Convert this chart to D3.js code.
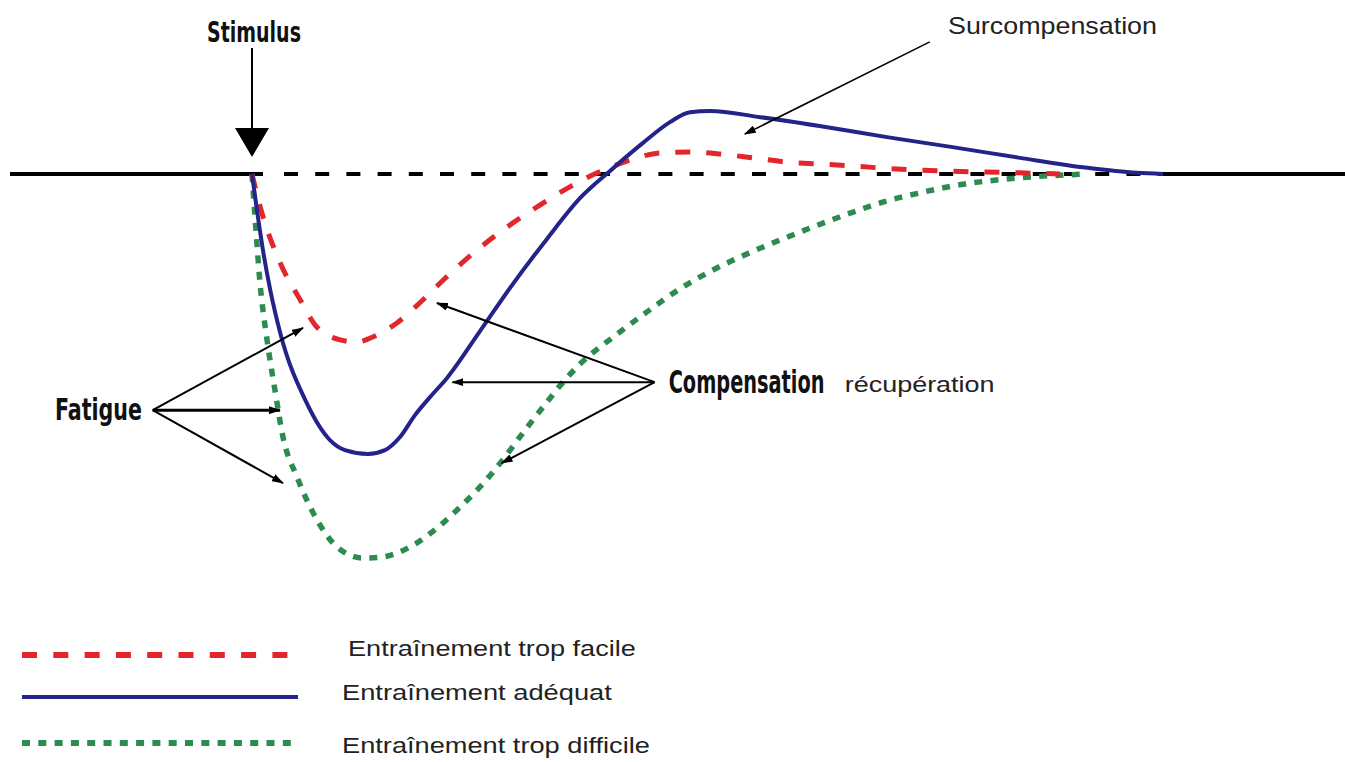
<!DOCTYPE html>
<html>
<head>
<meta charset="utf-8">
<script src="https://cdn.jsdelivr.net/npm/d3@7"></script>
<style>
  body { margin: 0; background: #ffffff; }
  svg { display: block; }
</style>
</head>
<body>
<svg id="chart" width="1345" height="762"></svg>
<script>
// ---------------- DATA ----------------
// time after the stimulus (arbitrary units, 0 = stimulus, 100 = back to baseline)
// level relative to the initial fitness level (0 = baseline, -100 = deepest fatigue)
const tEasy = [0, 0.9, 3.1, 5.3, 7.1, 9.7, 11.5, 13.0, 15.9, 18.4, 21.0, 24.3, 28.6, 31.6, 34.7, 37.9, 41.5, 44.8, 48.1, 51.4, 55.0, 58.7, 62.4, 73.3, 84.3, 88.7];
const vEasy = [0, -8.6, -23.2, -32.8, -39.8, -43.2, -43.8, -42.7, -38.8, -33.6, -27.6, -20.6, -12.8, -8.1, -3.6, 0.3, 3.6, 5.5, 5.7, 5.2, 4.2, 3.1, 2.6, 1.0, 0.3, 0];

const tAdequate = [0, 1.2, 2.0, 3.1, 6.0, 8.56, 10.21, 12.73, 14.6, 16.25, 17.89, 19.54, 21.41, 25.03, 28.65, 32.38, 36.0, 39.3, 42.92, 45.88, 48.08, 50.27, 55.8, 62.3, 69.7, 76.9, 84.3, 91.7, 97.1, 100];
const vAdequate = [0, -19.8, -30.2, -41.4, -59.6, -69.3, -71.9, -72.9, -71.9, -68.5, -62.8, -58.1, -53.1, -40.9, -28.6, -16.9, -6.3, 0.8, 8.1, 13.5, 16.1, 16.4, 14.8, 12.5, 9.6, 7.0, 4.2, 1.6, 0.3, 0];

const tHard = [0, 0.33, 0.88, 1.65, 2.52, 3.40, 4.94, 7.14, 9.33, 12.18, 14.38, 17.34, 20.31, 23.16, 25.03, 27.44, 29.97, 32.38, 34.36, 36.0, 39.63, 43.36, 46.98, 50.60, 54.34, 57.96, 61.58, 65.64, 69.70, 73.33, 76.95, 84.3, 91.7];
const vHard = [0, -11.2, -28.4, -43.2, -56.3, -68.5, -78.9, -90.1, -97.1, -100, -99.7, -97.1, -92.2, -86.0, -81.5, -74.7, -66.7, -59.4, -53.6, -49.5, -42.5, -35.9, -29.9, -25.0, -20.8, -17.2, -13.8, -10.2, -7.0, -4.9, -3.1, -1.0, 0];

const legendLabels = ["Entraînement trop facile", "Entraînement adéquat", "Entraînement trop difficile"];
const annotationLabels = ["Stimulus", "Fatigue", "Compensation", "récupération", "Surcompensation"];

// annotation anchor points in data units [time, level]
const fatigueOrigin = [-10.9, -61.5];
const fatigueTargets = [[5.6, -40.1], [3.07, -61.5], [3.4, -80.5]];
const compOrigin = [44.2, -54.2];
const compTargets = [[20.3, -33.6], [22.0, -54.2], [27.4, -75.3]];
const surcompFrom = [74.4, 34.4];
const surcompTo = [54.1, 10.4];

// ---------------- SCALES ----------------
const svg = d3.select("#chart");
const xScale = d3.scaleLinear().domain([0, 100]).range([252, 1163]);
const yScale = d3.scaleLinear().domain([0, -100]).range([174, 558]);

const condensed = "'Liberation Sans Narrow','DejaVu Sans Condensed','Roboto Condensed',sans-serif";
const regular = "'Liberation Sans',Arial,sans-serif";

// text placed at (x, baseline y) and horizontally fitted to a given width
function fittedText(label, x, y, width, opts) {
  const g = svg.append("g");
  const t = g.append("text")
    .attr("x", 0).attr("y", 0)
    .attr("font-family", opts.family)
    .attr("font-weight", opts.weight || "normal")
    .attr("font-size", opts.size)
    .attr("fill", opts.fill || "#222")
    .text(label);
  const w = t.node().getComputedTextLength();
  const k = w > 0 ? width / w : 1;
  g.attr("transform", `translate(${x},${y}) scale(${k},1)`);
  return g;
}

// arrow marker
const defs = svg.append("defs");
defs.append("marker")
  .attr("id", "arrow")
  .attr("markerUnits", "userSpaceOnUse")
  .attr("viewBox", "0 0 12 8")
  .attr("refX", 11).attr("refY", 4)
  .attr("markerWidth", 12).attr("markerHeight", 8)
  .attr("orient", "auto")
  .append("path").attr("d", "M0,0 L12,4 L0,8 Z").attr("fill", "#000");

// ---------------- BASELINE ----------------
const y0 = yScale(0);
svg.append("line")
  .attr("x1", 10).attr("x2", xScale(0) + 11)
  .attr("y1", y0).attr("y2", y0)
  .attr("stroke", "#000").attr("stroke-width", 4);
svg.append("line")
  .attr("x1", xScale(0) + 32).attr("x2", xScale(100))
  .attr("y1", y0).attr("y2", y0)
  .attr("stroke", "#000").attr("stroke-width", 4)
  .attr("stroke-dasharray", "14,17.2");
svg.append("line")
  .attr("x1", xScale(100)).attr("x2", 1345)
  .attr("y1", y0).attr("y2", y0)
  .attr("stroke", "#000").attr("stroke-width", 4);

// ---------------- CURVES ----------------
const series = [
  { t: tHard, v: vHard, color: "#2e8b4f", width: 5.5, dash: "8,8.3" },
  { t: tEasy, v: vEasy, color: "#e3262b", width: 5, dash: "15,16" },
  { t: tAdequate, v: vAdequate, color: "#23238a", width: 4, dash: null }
];
const lineGen = d3.line()
  .x(d => xScale(d[0]))
  .y(d => yScale(d[1]))
  .curve(d3.curveMonotoneX);

series.forEach(s => {
  const pts = s.t.map((t, i) => [t, s.v[i]]);
  svg.append("path")
    .datum(pts)
    .attr("d", lineGen)
    .attr("fill", "none")
    .attr("stroke", s.color)
    .attr("stroke-width", s.width)
    .attr("stroke-dasharray", s.dash)
    .attr("stroke-linejoin", "round");
});

// ---------------- STIMULUS ----------------
const sx = xScale(0);
fittedText(annotationLabels[0], sx - 45, 42, 94, { family: condensed, weight: "bold", size: 28, fill: "#111" });
svg.append("line")
  .attr("x1", sx).attr("x2", sx)
  .attr("y1", 48).attr("y2", y0 - 44)
  .attr("stroke", "#000").attr("stroke-width", 2);
svg.append("path")
  .attr("d", `M${sx - 17},${y0 - 46} L${sx + 17},${y0 - 46} L${sx},${y0 - 17} Z`)
  .attr("fill", "#000");

// ---------------- FATIGUE ----------------
const fo = [xScale(fatigueOrigin[0]), yScale(fatigueOrigin[1])];
fittedText(annotationLabels[1], 55, fo[1] + 10, 87, { family: condensed, weight: "bold", size: 30, fill: "#111" });
fatigueTargets.forEach((p, i) => {
  svg.append("line")
    .attr("x1", fo[0]).attr("y1", fo[1])
    .attr("x2", xScale(p[0])).attr("y2", yScale(p[1]))
    .attr("stroke", "#000").attr("stroke-width", i === 1 ? 3 : 2)
    .attr("marker-end", "url(#arrow)");
});

// ---------------- COMPENSATION ----------------
const co = [xScale(compOrigin[0]), yScale(compOrigin[1])];
compTargets.forEach(p => {
  svg.append("line")
    .attr("x1", co[0]).attr("y1", co[1])
    .attr("x2", xScale(p[0])).attr("y2", yScale(p[1]))
    .attr("stroke", "#000").attr("stroke-width", 2)
    .attr("marker-end", "url(#arrow)");
});
fittedText(annotationLabels[2], co[0] + 14, co[1] + 11, 156, { family: condensed, weight: "bold", size: 32, fill: "#111" });
fittedText(annotationLabels[3], co[0] + 190, co[1] + 10, 150, { family: regular, size: 22, fill: "#222" });

// ---------------- SURCOMPENSATION ----------------
svg.append("line")
  .attr("x1", xScale(surcompFrom[0])).attr("y1", yScale(surcompFrom[1]))
  .attr("x2", xScale(surcompTo[0])).attr("y2", yScale(surcompTo[1]))
  .attr("stroke", "#000").attr("stroke-width", 1.6)
  .attr("marker-end", "url(#arrow)");
fittedText(annotationLabels[4], 948, 34, 209, { family: regular, size: 23, fill: "#222" });

// ---------------- LEGEND ----------------
const legendItems = [
  { label: legendLabels[0], color: "#e3262b", width: 6, dash: "15,16.3", x2: 288, ly: 655, tx: 348, ty: 656, tl: 288 },
  { label: legendLabels[1], color: "#23238a", width: 4, dash: null, x2: 298, ly: 697, tx: 342, ty: 700, tl: 270 },
  { label: legendLabels[2], color: "#2e8b4f", width: 6, dash: "8,8.3", x2: 296, ly: 743, tx: 342, ty: 753, tl: 308 }
];
legendItems.forEach(it => {
  svg.append("line")
    .attr("x1", 22).attr("x2", it.x2)
    .attr("y1", it.ly).attr("y2", it.ly)
    .attr("stroke", it.color).attr("stroke-width", it.width)
    .attr("stroke-dasharray", it.dash);
  fittedText(it.label, it.tx, it.ty, it.tl, { family: regular, size: 22, fill: "#222" });
});
</script>
</body>
</html>
